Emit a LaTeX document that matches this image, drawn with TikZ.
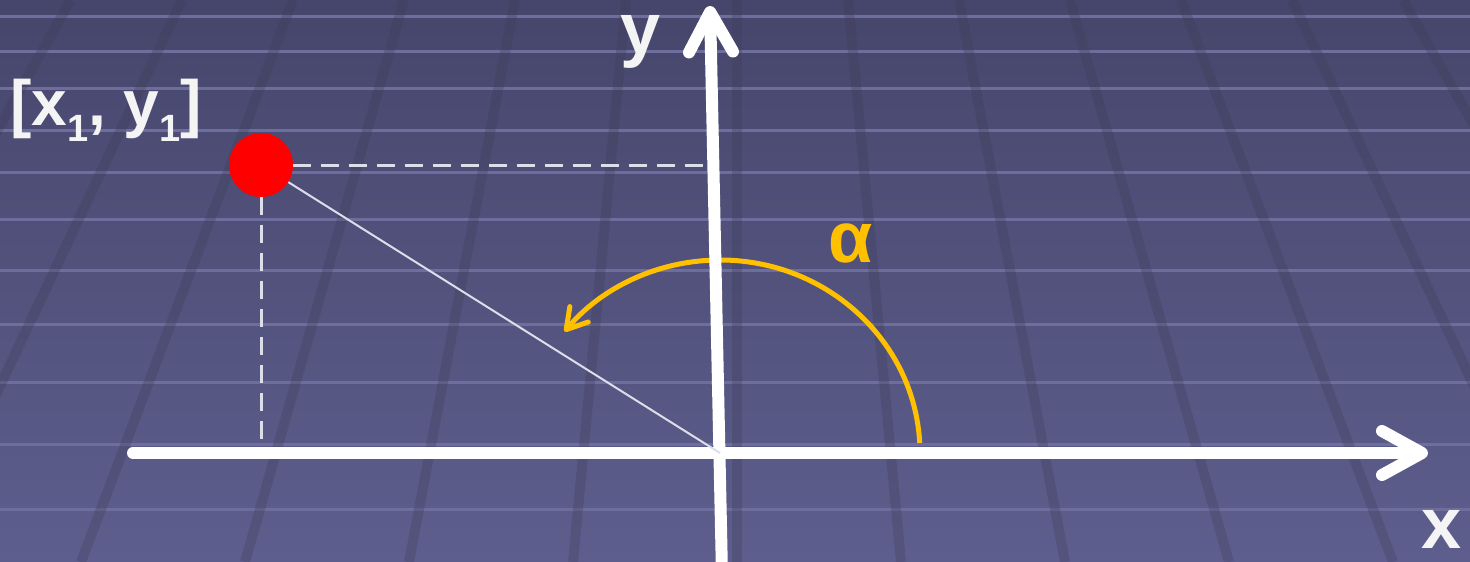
\documentclass[tikz,border=0pt]{standalone}
\usepackage{fontspec}
\setmainfont{Liberation Sans}
\usetikzlibrary{arrows.meta}
\definecolor{bgtop}{RGB}{70,70,108}
\definecolor{bgbottom}{RGB}{94,94,142}
\definecolor{bandline}{RGB}{110,110,158}
\definecolor{gridline}{RGB}{62,60,86}
\definecolor{anglecol}{RGB}{255,192,0}
\definecolor{labelcol}{RGB}{244,244,244}
\definecolor{helpline}{RGB}{222,222,234}
\newcommand{\lowidx}[1]{\raisebox{-16pt}{\fontsize{38}{38}\selectfont #1}}

\begin{document}
\begin{tikzpicture}[x=1pt,y=-1pt]
    \tikzset{band/.style = {bandline, line width=3pt}}
    \tikzset{ray/.style = {gridline, line width=10pt, opacity=0.3}}
    \tikzset{axisline/.style = {white, line width=12pt, line cap=round, -{Straight Barb[length=40pt,width=44pt,round]}}}
    \tikzset{helper/.style = {helpline, line width=3pt, dash pattern=on 18pt off 10pt}}
    \tikzset{radius line/.style = {helpline, line width=2pt}}
    \tikzset{angle arrow/.style = {anglecol, line width=5pt, -{Straight Barb[length=20pt,width=24pt,round]}}}
    \tikzset{dot/.style = {shape=circle, fill=red, minimum size=64pt, inner sep=0pt}}
    \tikzset{txt/.style = {labelcol, font=\bfseries\fontsize{72}{72}\selectfont, inner sep=0pt, anchor=base}}
    % background
    \useasboundingbox (0,0) rectangle (1470,562);
    \clip (0,0) rectangle (1470,562);
    \shade[top color=bgtop, bottom color=bgbottom] (0,0) rectangle (1470,562);
    \foreach \y in {16,51,88,130,172,219,270,324,382,444,509}
        \draw[band] (0,\y) -- (1470,\y);
    \foreach \i in {-6,...,6}
        \draw[ray] ({737+111*\i},0) -- ({737+164*\i},562);
    % points
    \coordinate (o) at (720,453);
    \coordinate (xs) at (133,453);
    \coordinate (xe) at (1428,453);
    \coordinate (ys) at (722,575);
    \coordinate (ye) at (710,6);
    \coordinate (py) at (708,165);
    \coordinate (px) at (261,448);
    \node[dot] (p) at (261,165) {};
    % labels
    \node[txt] (ylab) at (641,53) {y};
    \node[txt] (xlab) at (1442,548) {x};
    \node[txt, anglecol] (alab) at (851,262) {α};
    \node[txt, anchor=base west, font=\bfseries\fontsize{64}{64}\selectfont] (plab) at (10,125) {[x\lowidx{1}, y\lowidx{1}]};
    % lines
    \draw[angle arrow] (o) ++(-3:200 and 193) arc[start angle=-3, end angle=-141, x radius=200, y radius=193];
    \draw[axisline] (xs) -- (xe);
    \draw[axisline] (ys) -- (ye);
    \draw[helper] (p) -- (py);
    \draw[helper] (p) -- (px);
    \draw[radius line] (p) -- (o);
\end{tikzpicture}
\end{document}
